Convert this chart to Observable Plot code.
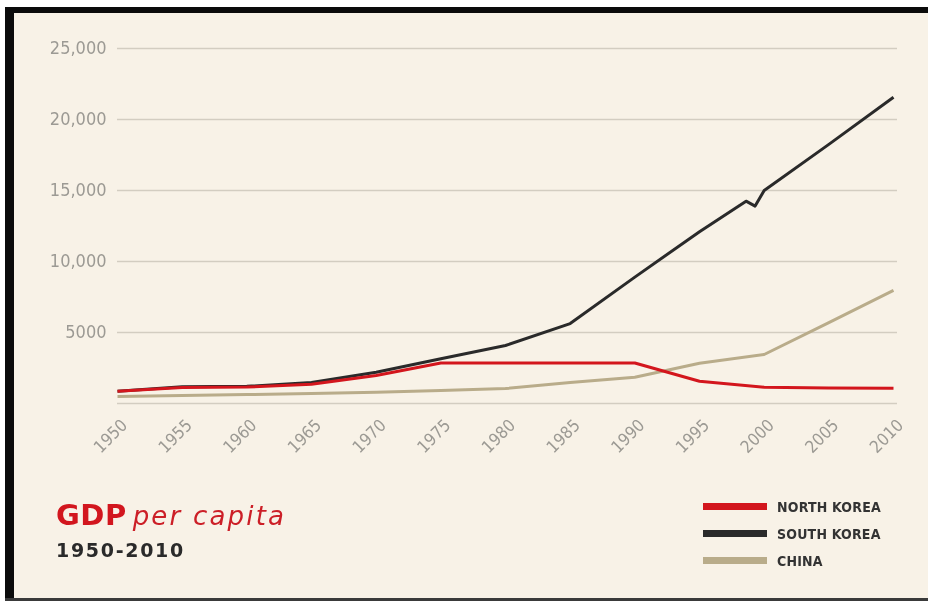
<!DOCTYPE html>
<html>
<head>
<meta charset="utf-8">
<script src="https://cdn.jsdelivr.net/npm/d3@7"></script>
<script src="https://cdn.jsdelivr.net/npm/@observablehq/plot@0.6"></script>
<style>
  html { margin: 0; padding: 0; background: #f8f2e7; overflow: hidden; }
  body { margin: 0; padding: 0; background: #f8f2e7; overflow: hidden; }
  .abs { position: fixed; }
  #whiteTop { left: 0; top: 0; right: 0; height: 7px; background: #ffffff; }
  #whiteLeft { left: 0; top: 0; bottom: 0; width: 5px; background: #ffffff; }
  #topBar { left: 5px; top: 7px; right: 0; height: 6px; background: #0b0b0b; }
  #leftBar { left: 5px; top: 7px; bottom: 0; width: 9px; background: #0b0b0b; }
  #bottomBar { left: 5px; top: 598px; right: 0; bottom: 0; background: #3a3a3a; }
  #chart { position: fixed; left: 0; top: 0; }
  #chart svg text { font-family: "Liberation Sans Narrow", "DejaVu Sans Condensed", sans-serif; fill: #9c9a94; }
  #chart svg [aria-label="y-axis tick label"] text { font-size: 18px; }
  #chart svg [aria-label="x-axis tick label"] text { font-size: 17px; }
  #title { position: fixed; left: 56px; top: 498px; white-space: nowrap; color: #d2161e; }
  #title .gdp { font-family: "DejaVu Sans", sans-serif; font-weight: bold; font-size: 29px; letter-spacing: 0.5px; }
  #title .pc { font-family: "DejaVu Sans", sans-serif; font-style: italic; font-size: 26px; letter-spacing: 2.2px; color: #cc1f27; margin-left: 6px; }
  #sub { position: fixed; left: 56px; top: 539px; font-family: "DejaVu Sans", sans-serif; font-weight: bold; font-size: 19px; letter-spacing: 1.7px; color: #2a2a2a; }
  #legend { position: fixed; left: 703px; top: 493px; }
  .row { display: flex; align-items: center; height: 27px; }
  .sw { width: 64px; height: 7px; margin-right: 10px; }
  .lab { font-family: "DejaVu Sans Condensed", sans-serif; font-weight: bold; font-size: 14px; color: #333333; letter-spacing: 0.2px; }
</style>
</head>
<body>
<div id="whiteTop" class="abs"></div>
<div id="whiteLeft" class="abs"></div>
<div id="topBar" class="abs"></div>
<div id="leftBar" class="abs"></div>
<div id="bottomBar" class="abs"></div>
<div id="chart"></div>
<div id="title"><span class="gdp">GDP</span><span class="pc">per capita</span></div>
<div id="sub">1950-2010</div>
<div id="legend"></div>
<script>
// ---- data ----
const seriesNames = ["NORTH KOREA", "SOUTH KOREA", "CHINA"];
const seriesColors = ["#d3161d", "#2a2a2a", "#b9ac8a"];

const northKoreaYears = [1950, 1955, 1960, 1965, 1970, 1975, 1980, 1985, 1990, 1995, 2000, 2005, 2010];
const northKoreaValues = [860, 1120, 1160, 1350, 1970, 2850, 2850, 2850, 2850, 1570, 1150, 1100, 1080];

const southKoreaYears = [1950, 1955, 1960, 1965, 1970, 1975, 1980, 1985, 1990, 1995, 1998.6, 1999.3, 2000, 2005, 2010];
const southKoreaValues = [870, 1180, 1210, 1480, 2200, 3150, 4085, 5630, 8900, 12100, 14250, 13900, 15000, 18250, 21570];

const chinaYears = [1950, 1955, 1960, 1965, 1970, 1975, 1980, 1985, 1990, 1995, 2000, 2005, 2010];
const chinaValues = [490, 570, 630, 700, 800, 910, 1050, 1480, 1850, 2840, 3450, 5700, 7960];

const xTicks = [1950, 1955, 1960, 1965, 1970, 1975, 1980, 1985, 1990, 1995, 2000, 2005, 2010];
const yTicks = [5000, 10000, 15000, 20000, 25000];
const gridValues = [0, 5000, 10000, 15000, 20000, 25000];

// ---- build tidy table ----
const rows = [];
[[northKoreaYears, northKoreaValues], [southKoreaYears, southKoreaValues], [chinaYears, chinaValues]].forEach(([ys, vs], i) => {
  ys.forEach((y, j) => rows.push({series: seriesNames[i], year: y, value: vs[j]}));
});
const drawOrder = ["CHINA", "SOUTH KOREA", "NORTH KOREA"];

const yFmt = d => d >= 10000 ? d3.format(",")(d) : String(d);

const chart = Plot.plot({
  width: 928,
  height: 470,
  marginLeft: 117,
  marginRight: 35,
  marginTop: 48,
  marginBottom: 67,
  style: {background: "transparent", overflow: "visible"},
  x: {domain: [1950, 2010]},
  y: {domain: [0, 25000]},
  color: {domain: seriesNames, range: seriesColors},
  marks: [
    Plot.ruleY(gridValues, {stroke: "#d3cdc1", strokeWidth: 1.6, insetRight: -4}),
    Plot.axisY({ticks: yTicks, tickSize: 0, tickPadding: 11, tickFormat: yFmt, label: null}),
    Plot.axisX({ticks: xTicks, tickSize: 0, tickPadding: 10, tickRotate: -45, tickFormat: d => String(d), label: null, dx: 7, dy: 9}),
    ...drawOrder.map(name => Plot.line(rows.filter(r => r.series === name), {
      x: "year", y: "value", stroke: "series", strokeWidth: 3, strokeLinejoin: "round", strokeLinecap: "butt"
    }))
  ]
});
document.getElementById("chart").appendChild(chart);

// legend
const legend = d3.select("#legend");
seriesNames.forEach((name, i) => {
  const row = legend.append("div").attr("class", "row");
  row.append("div").attr("class", "sw").style("background", seriesColors[i]);
  row.append("div").attr("class", "lab").text(name);
});
</script>
</body>
</html>
